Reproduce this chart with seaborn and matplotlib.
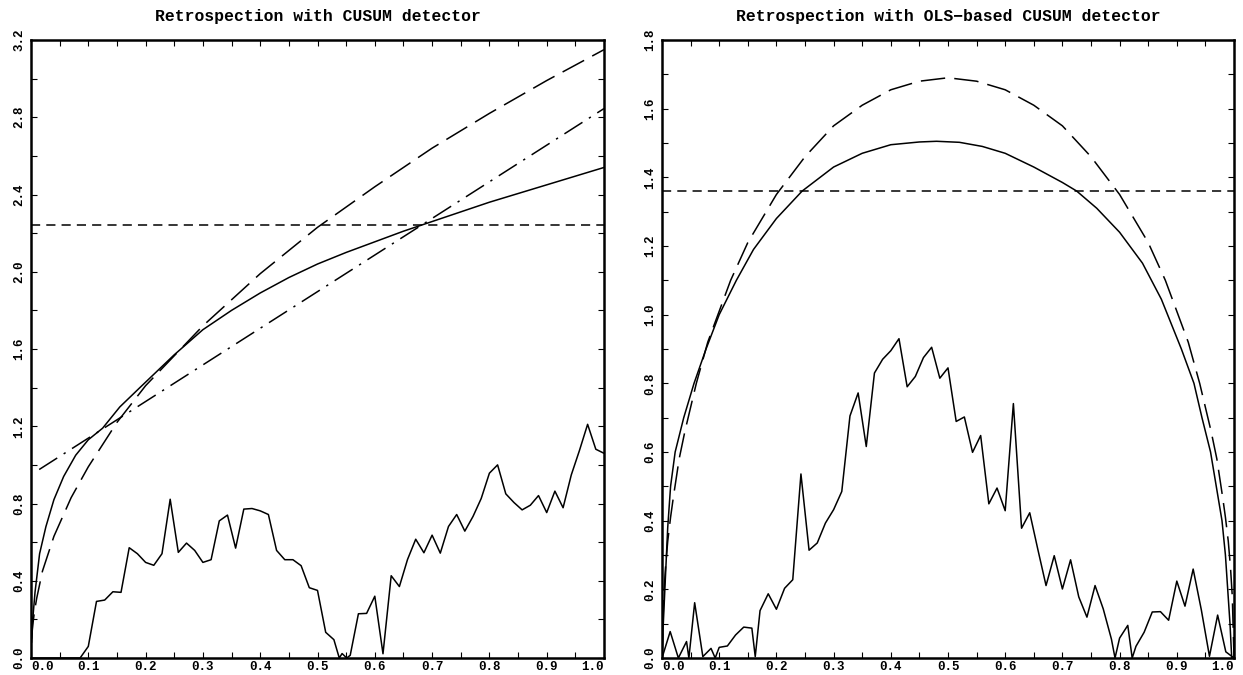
import matplotlib
matplotlib.use("Agg")
import matplotlib.pyplot as plt
import seaborn as sns

# ---- values ----
# left panel: CUSUM process
cusum_t = [0.0, 0.0143, 0.0286, 0.0429, 0.0571, 0.0714, 0.0857, 0.1, 0.1143, 0.1286,
           0.1429, 0.1571, 0.1714, 0.1857, 0.2, 0.2143, 0.2286, 0.2429, 0.2571, 0.2714,
           0.2857, 0.3, 0.3143, 0.3286, 0.3429, 0.3571, 0.3714, 0.3857, 0.4, 0.4143,
           0.4286, 0.4429, 0.4571, 0.4714, 0.4857, 0.5, 0.5143, 0.5286, 0.538, 0.5429,
           0.551, 0.5571, 0.5714, 0.5857, 0.6, 0.6143, 0.6286, 0.6429, 0.6571, 0.6714,
           0.6857, 0.7, 0.7143, 0.7286, 0.7429, 0.7571, 0.7714, 0.7857, 0.8, 0.8143,
           0.8286, 0.8429, 0.8571, 0.8714, 0.8857, 0.9, 0.9143, 0.9286, 0.9429, 0.9571,
           0.9714, 0.9857, 1.0]
cusum_val = [0.0, 0.0, 0.0, 0.0, 0.0, 0.0, 0.0, 0.06, 0.293, 0.30,
             0.343, 0.34, 0.571, 0.54, 0.495, 0.48, 0.54, 0.822, 0.547, 0.595,
             0.557, 0.495, 0.509, 0.71, 0.74, 0.569, 0.771, 0.774, 0.762, 0.743,
             0.557, 0.509, 0.509, 0.478, 0.364, 0.35, 0.133, 0.095, 0.0, 0.023,
             0.0, 0.014, 0.229, 0.231, 0.32, 0.022, 0.426, 0.37, 0.51, 0.615,
             0.545, 0.636, 0.543, 0.681, 0.743, 0.657, 0.733, 0.826, 0.957, 1.0,
             0.85, 0.805, 0.767, 0.791, 0.841, 0.753, 0.864, 0.778, 0.948, 1.074,
             1.21, 1.081, 1.06]

# left panel boundaries
cusum_solid_t = [0.001, 0.003, 0.007, 0.015, 0.026, 0.04, 0.057, 0.078, 0.1, 0.125,
                 0.155, 0.19, 0.25, 0.3, 0.35, 0.4, 0.45, 0.5, 0.55, 0.6,
                 0.65, 0.7, 0.8, 0.9, 1.0]
cusum_solid = [0.08, 0.2, 0.34, 0.54, 0.68, 0.82, 0.94, 1.05, 1.13, 1.19,
               1.3, 1.40, 1.57, 1.70, 1.80, 1.89, 1.97, 2.04, 2.10, 2.155,
               2.21, 2.26, 2.36, 2.45, 2.54]
cusum_dash_t = [0.001, 0.003, 0.006, 0.01, 0.02, 0.04, 0.07, 0.1, 0.15, 0.2,
                0.3, 0.4, 0.5, 0.6, 0.7, 0.8, 0.9, 1.0]
cusum_dash = [0.1, 0.17, 0.24, 0.31, 0.45, 0.63, 0.83, 0.99, 1.22, 1.41,
              1.72, 1.99, 2.23, 2.44, 2.64, 2.82, 2.99, 3.15]
cusum_lin_t = [0.0143, 1.0]
cusum_lin = [0.976, 2.845]
cusum_crit = 2.24

# right panel: OLS-based CUSUM process
ols_t = [0.0, 0.0143, 0.0286, 0.0429, 0.047, 0.0571, 0.0714, 0.0857, 0.093, 0.1,
         0.1143, 0.1286, 0.1429, 0.1571, 0.163, 0.1714, 0.1857, 0.2, 0.2143, 0.2286,
         0.2429, 0.2571, 0.2714, 0.2857, 0.3, 0.3143, 0.3286, 0.3429, 0.3571, 0.3714,
         0.3857, 0.4, 0.4143, 0.4286, 0.4429, 0.4571, 0.4714, 0.4857, 0.5, 0.5143,
         0.5286, 0.5429, 0.5571, 0.5714, 0.5857, 0.6, 0.6143, 0.6286, 0.6429, 0.6571,
         0.6714, 0.6857, 0.7, 0.7143, 0.7286, 0.7429, 0.7571, 0.7714, 0.7857, 0.792,
         0.8, 0.8143, 0.822, 0.8286, 0.8429, 0.8571, 0.8714, 0.8857, 0.9, 0.9143,
         0.9286, 0.9429, 0.9571, 0.9714, 0.9857, 1.0]
ols_val = [0.0, 0.077, 0.0, 0.048, 0.0, 0.161, 0.004, 0.028, 0.0, 0.031,
           0.035, 0.067, 0.09, 0.087, 0.004, 0.138, 0.187, 0.142, 0.203, 0.228,
           0.536, 0.314, 0.335, 0.393, 0.432, 0.485, 0.705, 0.772, 0.616, 0.83,
           0.87, 0.895, 0.93, 0.79, 0.82, 0.875, 0.905, 0.815, 0.845, 0.689,
           0.702, 0.599, 0.648, 0.449, 0.495, 0.429, 0.741, 0.378, 0.423, 0.316,
           0.211, 0.298, 0.201, 0.286, 0.178, 0.119, 0.211, 0.143, 0.055, 0.0,
           0.058, 0.095, 0.0, 0.034, 0.075, 0.134, 0.135, 0.11, 0.224, 0.151,
           0.259, 0.14, 0.005, 0.125, 0.018, 0.0]

# right panel boundaries
ols_solid_t = [0.0, 0.002, 0.005, 0.01, 0.015, 0.023, 0.038, 0.056, 0.077, 0.1,
               0.13, 0.16, 0.2, 0.245, 0.3, 0.35, 0.4, 0.45, 0.48, 0.52,
               0.56, 0.6, 0.65, 0.7, 0.725, 0.76, 0.8, 0.84, 0.873, 0.908,
               0.93, 0.944, 0.959, 0.969, 0.979, 0.985, 0.989, 0.993, 0.996]
ols_solid = [0.0, 0.09, 0.2, 0.38, 0.5, 0.6, 0.7, 0.8, 0.9, 1.0,
             1.1, 1.19, 1.28, 1.36, 1.43, 1.47, 1.495, 1.503, 1.505, 1.502,
             1.49, 1.47, 1.43, 1.385, 1.36, 1.31, 1.24, 1.15, 1.045, 0.9,
             0.8, 0.7, 0.6, 0.5, 0.4, 0.3, 0.2, 0.1, 0.0]
ols_dash_t = [0.0, 0.003, 0.006, 0.01, 0.015, 0.02, 0.03, 0.04, 0.06, 0.08,
              0.1, 0.12, 0.15, 0.2, 0.25, 0.3, 0.35, 0.4, 0.45, 0.5,
              0.55, 0.6, 0.65, 0.7, 0.75, 0.8, 0.85, 0.88, 0.9, 0.92,
              0.94, 0.96, 0.97, 0.98, 0.985, 0.99, 0.994, 0.997, 1.0]
ols_dash = [0.0, 0.18, 0.26, 0.34, 0.41, 0.47, 0.58, 0.66, 0.8, 0.92,
            1.01, 1.1, 1.21, 1.35, 1.46, 1.55, 1.61, 1.655, 1.68, 1.69,
            1.68, 1.655, 1.61, 1.55, 1.46, 1.35, 1.21, 1.1, 1.01, 0.92,
            0.8, 0.66, 0.58, 0.47, 0.41, 0.34, 0.26, 0.18, 0.0]
ols_crit = 1.36

x_ticks = [0.0, 0.05, 0.1, 0.15, 0.2, 0.25, 0.3, 0.35, 0.4, 0.45, 0.5,
           0.55, 0.6, 0.65, 0.7, 0.75, 0.8, 0.85, 0.9, 0.95, 1.0]
x_labels = ["0.0", "", "0.1", "", "0.2", "", "0.3", "", "0.4", "", "0.5",
            "", "0.6", "", "0.7", "", "0.8", "", "0.9", "", "1.0"]
left_yticks = [0.0, 0.2, 0.4, 0.6, 0.8, 1.0, 1.2, 1.4, 1.6, 1.8, 2.0,
               2.2, 2.4, 2.6, 2.8, 3.0, 3.2]
left_ylabels = ["0.0", "", "0.4", "", "0.8", "", "1.2", "", "1.6", "", "2.0",
                "", "2.4", "", "2.8", "", "3.2"]
right_yticks = [0.0, 0.1, 0.2, 0.3, 0.4, 0.5, 0.6, 0.7, 0.8, 0.9, 1.0,
                1.1, 1.2, 1.3, 1.4, 1.5, 1.6, 1.7, 1.8]
right_ylabels = ["0.0", "", "0.2", "", "0.4", "", "0.6", "", "0.8", "", "1.0",
                 "", "1.2", "", "1.4", "", "1.6", "", "1.8"]

sns.set_style("ticks")
plt.rcParams['font.family'] = ['Liberation Mono', 'DejaVu Sans Mono']

LW = 1.1
SHORT = (0, (6, 4))
LONG = (0, (16, 6))
DASHDOT = (0, (14, 5, 1.5, 5))

fig = plt.figure(figsize=(12.43, 6.75), dpi=100)
ax1 = fig.add_axes([31 / 1243, 17 / 675, 573 / 1243, 618 / 675])
ax2 = fig.add_axes([662 / 1243, 17 / 675, 572 / 1243, 618 / 675])


def style_axis(ax, yticks, ylabels, ymax, title):
    ax.set_xlim(0, 1)
    ax.set_ylim(0, ymax)
    ax.set_xticks(x_ticks)
    ax.set_xticklabels(x_labels, fontsize=9, fontweight='bold')
    ax.set_yticks(yticks)
    ax.set_yticklabels(ylabels, fontsize=9, fontweight='bold', rotation=90, va='center')
    ax.tick_params(direction='in', length=4, width=0.8, colors='black',
                   top=True, right=True)
    ax.tick_params(axis='x', pad=2)
    ax.tick_params(axis='y', pad=4)
    labs = ax.get_xticklabels()
    labs[0].set_ha('left')
    labs[-1].set_ha('right')
    for s in ax.spines.values():
        s.set_linewidth(1.8)
        s.set_color('black')
        s.set_visible(True)
    ax.set_xlabel("")
    ax.set_ylabel("")
    ax.set_title(title, fontsize=11.8, fontweight='bold', pad=14, color='black',
                 family=['Liberation Mono', 'DejaVu Sans Mono'])


# left: CUSUM
sns.lineplot(x=cusum_t, y=cusum_val, ax=ax1, color='black', lw=LW, estimator=None, sort=False)
sns.lineplot(x=cusum_solid_t, y=cusum_solid, ax=ax1, color='black', lw=LW, estimator=None, sort=False)
sns.lineplot(x=cusum_dash_t, y=cusum_dash, ax=ax1, color='black', lw=LW, linestyle=LONG,
             estimator=None, sort=False)
sns.lineplot(x=cusum_lin_t, y=cusum_lin, ax=ax1, color='black', lw=LW, linestyle=DASHDOT,
             estimator=None, sort=False)
ax1.axhline(cusum_crit, color='black', lw=LW, linestyle=SHORT)
style_axis(ax1, left_yticks, left_ylabels, 3.2, "Retrospection with CUSUM detector")

# right: OLS-based CUSUM
sns.lineplot(x=ols_t, y=ols_val, ax=ax2, color='black', lw=LW, estimator=None, sort=False)
sns.lineplot(x=ols_solid_t, y=ols_solid, ax=ax2, color='black', lw=LW, estimator=None, sort=False)
sns.lineplot(x=ols_dash_t, y=ols_dash, ax=ax2, color='black', lw=LW, linestyle=LONG,
             estimator=None, sort=False)
ax2.axhline(ols_crit, color='black', lw=LW, linestyle=SHORT)
style_axis(ax2, right_yticks, right_ylabels, 1.8, "Retrospection with OLS\u2212based CUSUM detector")

fig.savefig("out.png", dpi=100)
